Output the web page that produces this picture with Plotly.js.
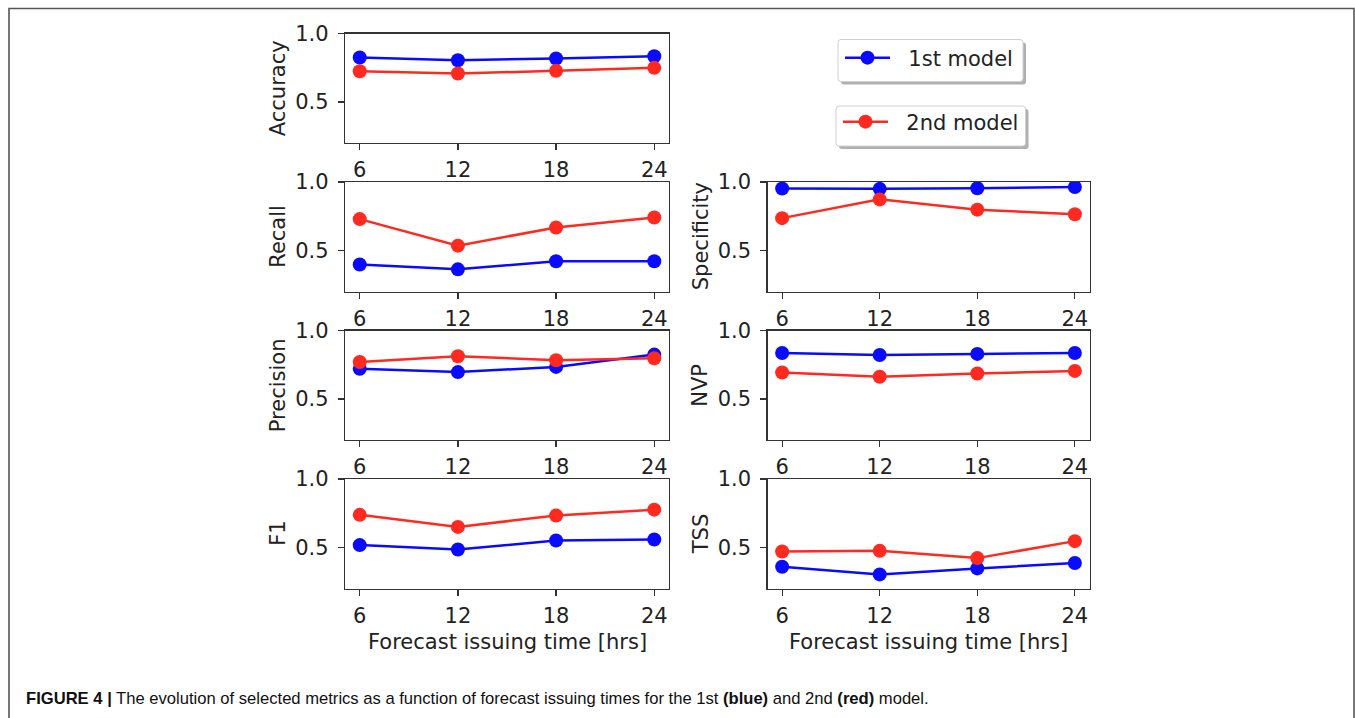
<!DOCTYPE html>
<html>
<head>
<meta charset="utf-8">
<script src="https://cdn.plot.ly/plotly-3.0.1.min.js"></script>
<style>html,body{margin:0;padding:0;background:#fff;}#chart{width:1355px;height:718px;}</style>
</head>
<body>
<div id="chart"></div>
<script>
// ---- data ----
const hours = [6, 12, 18, 24];
const xTickLabels = ['6', '12', '18', '24'];
const yTickVals = [0.5, 1.0];
const yTickLabels = ['0.5', '1.0'];
const seriesNames = ['\u00a0\u00a01st model', '\u00a0\u00a02nd model'];

const accuracy1 = [0.825, 0.805, 0.817, 0.834];
const accuracy2 = [0.724, 0.708, 0.727, 0.749];
const recall1 = [0.397, 0.362, 0.421, 0.421];
const recall2 = [0.729, 0.535, 0.668, 0.741];
const specificity1 = [0.952, 0.950, 0.954, 0.963];
const specificity2 = [0.736, 0.873, 0.798, 0.764];
const precision1 = [0.720, 0.696, 0.734, 0.824];
const precision2 = [0.770, 0.812, 0.783, 0.797];
const nvp1 = [0.836, 0.821, 0.829, 0.836];
const nvp2 = [0.693, 0.662, 0.686, 0.705];
const f1_1 = [0.517, 0.485, 0.551, 0.558];
const f1_2 = [0.738, 0.650, 0.733, 0.776];
const tss1 = [0.359, 0.303, 0.347, 0.386];
const tss2 = [0.470, 0.475, 0.422, 0.546];

const metricNames = ['Accuracy', 'Recall', 'Specificity', 'Precision', 'NVP', 'F1', 'TSS'];
const model1 = [accuracy1, recall1, specificity1, precision1, nvp1, f1_1, tss1];
const model2 = [accuracy2, recall2, specificity2, precision2, nvp2, f1_2, tss2];

const captionText = '<b>FIGURE 4 |</b> The evolution of selected metrics as a function of forecast issuing times for the 1st <b>(blue)</b> and 2nd <b>(red)</b> model.';
const xTitleText = 'Forecast issuing time [hrs]';

// ---- layout geometry (pixels) ----
const W = 1355, H = 718;
const px = v => v / W;
const py = v => 1 - v / H;
const cols = [[345, 669], [767.5, 1089.5]];
const rowTops = [33.5, 182, 330.5, 479];
const rowH = 109.5;
// panel placement: [col,row] for each metric
const place = [[0,0],[0,1],[1,1],[0,2],[1,2],[0,3],[1,3]];
const BLUE = '#0a0aff', RED = '#ff2a1f';
const FONT = 'DejaVu Sans, Verdana, sans-serif';
const FS = 21;

const data = [];
const layout = {
  width: W, height: H,
  margin: {l: 0, r: 0, t: 0, b: 0},
  paper_bgcolor: '#fff', plot_bgcolor: '#fff',
  showlegend: true,
  font: {family: FONT, size: FS, color: '#222'},
  annotations: [], shapes: []
};

function axId(i){ return i === 0 ? '' : String(i + 1); }

metricNames.forEach((name, i) => {
  const [c, r] = place[i];
  const xa = 'x' + axId(i), ya = 'y' + axId(i);
  data.push({
    x: hours, y: model1[i], type: 'scatter', mode: 'lines+markers',
    name: seriesNames[0], legend: 'legend', showlegend: i === 0,
    line: {color: BLUE, width: 2.5}, marker: {color: BLUE, size: 14},
    xaxis: xa, yaxis: ya
  });
  data.push({
    x: hours, y: model2[i], type: 'scatter', mode: 'lines+markers',
    name: seriesNames[1], legend: 'legend2', showlegend: i === 0,
    line: {color: RED, width: 2.5}, marker: {color: RED, size: 14},
    xaxis: xa, yaxis: ya
  });
  const xKey = 'xaxis' + axId(i), yKey = 'yaxis' + axId(i);
  const top = rowTops[r], bot = rowTops[r] + rowH;
  layout[xKey] = {
    domain: [px(cols[c][0]), px(cols[c][1])], anchor: ya,
    range: [5.1, 24.9], tickvals: hours, ticktext: xTickLabels,
    ticks: 'outside', ticklen: 6, tickwidth: 1.2, tickcolor: '#333',
    showline: true, mirror: true, linecolor: '#333', linewidth: 1.2,
    showgrid: false, zeroline: false, ticklabelstandoff: 2,
    tickfont: {family: FONT, size: FS, color: '#222'}, fixedrange: true
  };
  layout[yKey] = {
    domain: [py(bot), py(top)], anchor: xa,
    range: [0.2, 1.0], tickvals: yTickVals, ticktext: yTickLabels,
    ticks: 'outside', ticklen: 6, tickwidth: 1.2, tickcolor: '#333',
    showline: true, mirror: true, linecolor: '#333', linewidth: 1.2,
    showgrid: false, zeroline: false, ticklabelstandoff: 5,
    tickfont: {family: FONT, size: FS, color: '#222'}, fixedrange: true
  };
  // y axis title
  layout.annotations.push({
    text: name, xref: 'paper', yref: 'paper', showarrow: false,
    x: px(cols[c][0] - 67), y: py((top + bot) / 2),
    xanchor: 'center', yanchor: 'middle', textangle: -90,
    font: {family: FONT, size: FS, color: '#222'}
  });
  if (r === 3) {
    layout.annotations.push({
      text: xTitleText, xref: 'paper', yref: 'paper', showarrow: false,
      x: px((cols[c][0] + cols[c][1]) / 2), y: py(641.5),
      xanchor: 'center', yanchor: 'middle',
      font: {family: FONT, size: FS, color: '#222'}
    });
  }
});

// caption
layout.annotations.push({
  text: captionText, xref: 'paper', yref: 'paper', showarrow: false,
  x: px(24), y: py(698), xanchor: 'left', yanchor: 'middle',
  font: {family: 'Liberation Sans Narrow, Arial Narrow, Liberation Sans, Arial, sans-serif', size: 16.6, color: '#111'}
});

// outer frame
layout.shapes.push({type: 'rect', xref: 'paper', yref: 'paper', x0: px(9), x1: px(1354), y0: -0.05, y1: py(8.5),
  line: {color: '#555', width: 1.6}, fillcolor: 'rgba(0,0,0,0)', layer: 'below'});

// legend frames (rounded, with shadow)
function roundRect(x0, y0, x1, y1, r) {
  const P = (x, y) => px(x) + ',' + py(y);
  return 'M' + P(x0 + r, y0) + ' L' + P(x1 - r, y0) + ' Q' + P(x1, y0) + ' ' + P(x1, y0 + r) +
    ' L' + P(x1, y1 - r) + ' Q' + P(x1, y1) + ' ' + P(x1 - r, y1) +
    ' L' + P(x0 + r, y1) + ' Q' + P(x0, y1) + ' ' + P(x0, y1 - r) +
    ' L' + P(x0, y0 + r) + ' Q' + P(x0, y0) + ' ' + P(x0 + r, y0) + ' Z';
}
const legBoxes = [[838, 39.5, 1023, 81.5], [836, 106, 1025.5, 146]];
legBoxes.forEach(b => {
  layout.shapes.push({type: 'path', xref: 'paper', yref: 'paper', path: roundRect(b[0] + 3, b[1] + 3, b[2] + 3, b[3] + 3, 3),
    fillcolor: '#b0b0b0', line: {width: 0}});
  layout.shapes.push({type: 'path', xref: 'paper', yref: 'paper', path: roundRect(b[0], b[1], b[2], b[3], 3),
    fillcolor: '#fff', line: {color: '#d0d0d0', width: 1}});
});

const legCommon = {
  xanchor: 'left', yanchor: 'middle', bgcolor: 'rgba(0,0,0,0)', borderwidth: 0,
  font: {family: FONT, size: FS, color: '#222'}, itemwidth: 45, itemclick: false, itemdoubleclick: false
};
layout.legend = Object.assign({}, legCommon, {x: px(840), y: py(58)});
layout.legend2 = Object.assign({}, legCommon, {x: px(838), y: py(122)});

Plotly.newPlot('chart', data, layout, {displayModeBar: false, staticPlot: true});
</script>
</body>
</html>
